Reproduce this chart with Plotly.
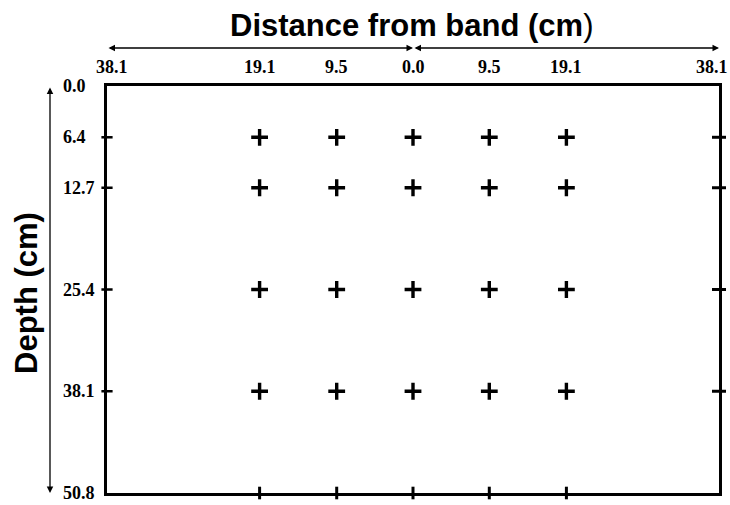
import plotly.graph_objects as go

# Data
x_positions = [-19.1, -9.5, 0.0, 9.5, 19.1]
depths = [6.4, 12.7, 25.4, 38.1]
x_tick_vals = [-38.1, -19.1, -9.5, 0.0, 9.5, 19.1, 38.1]
x_tick_text = ["38.1", "19.1", "9.5", "0.0", "9.5", "19.1", "38.1"]
y_tick_vals = [0.0, 6.4, 12.7, 25.4, 38.1, 50.8]
y_tick_text = ["0.0", "6.4", "12.7", "25.4", "38.1", "50.8"]
x_min, x_max = -38.1, 38.1
y_min, y_max = 0.0, 50.8

grid_x = [x for d in depths for x in x_positions]
grid_y = [d for d in depths for x in x_positions]

fig = go.Figure()

# Interior sampling points
fig.add_trace(go.Scatter(
    x=grid_x, y=grid_y, mode="markers",
    marker=dict(symbol="cross-thin", size=12, line=dict(width=3.4, color="black"), color="black"),
    showlegend=False, hoverinfo="skip"))

# Marks on right border
fig.add_trace(go.Scatter(
    x=[x_max] * len(depths), y=depths, mode="markers",
    marker=dict(symbol="line-ew", size=10, line=dict(width=3, color="black")),
    showlegend=False, hoverinfo="skip", cliponaxis=False))
# Marks on left border
fig.add_trace(go.Scatter(
    x=[x_min] * len(depths), y=depths, mode="markers",
    marker=dict(symbol="line-ew", size=8, line=dict(width=2.5, color="black")),
    showlegend=False, hoverinfo="skip", cliponaxis=False))
# Marks on bottom border
fig.add_trace(go.Scatter(
    x=x_positions, y=[y_max] * len(x_positions), mode="markers",
    marker=dict(symbol="line-ns", size=9, line=dict(width=3, color="black")),
    showlegend=False, hoverinfo="skip", cliponaxis=False))

tick_font = dict(family="Liberation Serif", size=18, color="black")

fig.update_xaxes(
    range=[x_min, x_max], side="top", tickvals=x_tick_vals, showticklabels=False,
    ticks="", showgrid=False, zeroline=False, automargin=False,
    showline=True, mirror=True, linecolor="black", linewidth=2.5)
fig.update_yaxes(
    range=[y_max, y_min], showticklabels=False, ticks="", showgrid=False, zeroline=False,
    automargin=False,
    showline=True, mirror=True, linecolor="black", linewidth=2.5)

annotations = []
# x tick labels on top
yl = (493 - 67) / 407
n = len(x_tick_vals)
for i, (v, t) in enumerate(zip(x_tick_vals, x_tick_text)):
    shift = 5 if i == 0 else (-7 if i == n - 1 else 0)
    annotations.append(dict(x=v, xref="x", y=yl, yref="paper", xshift=shift, xanchor="center",
                            yanchor="middle", text="<b>%s</b>" % t, showarrow=False, font=tick_font))
# y tick labels, left aligned
for v, t in zip(y_tick_vals, y_tick_text):
    annotations.append(dict(x=0, xref="paper", y=v, yref="y", xshift=-46, xanchor="left",
                            yanchor="middle", text="<b>%s</b>" % t, showarrow=False, font=tick_font))

# top double arrows
ya = (493 - 48) / 407
for a, b in [(x_min, 0.0), (0.0, x_max)]:
    annotations.append(dict(x=b, y=ya, xref="x", yref="paper", ax=a, ay=0, axref="x", ayref="pixel",
                            showarrow=True, arrowhead=2, arrowside="end+start", arrowsize=1,
                            arrowwidth=1.3, arrowcolor="black", text=""))
# left double arrow
xa = (50 - 107) / 612
annotations.append(dict(x=xa, y=y_max, xref="paper", yref="y", ax=0, ay=y_min, axref="pixel", ayref="y",
                        showarrow=True, arrowhead=2, arrowside="end+start", arrowsize=1,
                        arrowwidth=1.3, arrowcolor="black", text=""))

# titles
annotations.append(dict(x=(411 - 107) / 612, y=(493 - 25) / 407, xref="paper", yref="paper",
                        text="<b>Distance from band (cm</b>)", showarrow=False,
                        font=dict(family="Liberation Sans", size=31, color="black"),
                        xanchor="center", yanchor="middle"))
annotations.append(dict(x=(26 - 107) / 612, y=(493 - 293) / 407, xref="paper", yref="paper",
                        text="<b>Depth (cm)</b>", showarrow=False, textangle=-90,
                        font=dict(family="Liberation Sans", size=31, color="black"),
                        xanchor="center", yanchor="middle"))

fig.update_layout(
    width=730, height=505, margin=dict(l=107, r=11, t=86, b=12),
    plot_bgcolor="white", paper_bgcolor="white", annotations=annotations)

fig.write_html("out.html")
